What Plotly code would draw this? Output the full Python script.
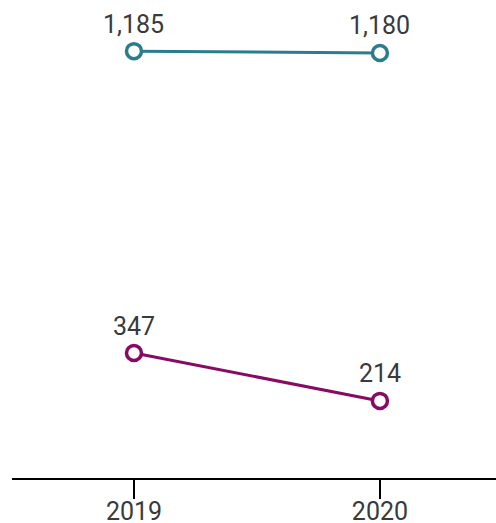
import plotly.graph_objects as go

years = [2019, 2020]
series_top = [1185, 1180]
series_bottom = [347, 214]
tick_labels = ["2019", "2020"]

teal = "#2b7c8f"
purple = "#870a64"
text_col = "#3a3a3a"

fig = go.Figure()

for vals, col in [(series_top, teal), (series_bottom, purple)]:
    fig.add_trace(go.Scatter(
        x=years, y=vals, mode="lines+markers",
        line=dict(color=col, width=3),
        marker=dict(size=15, color="white", line=dict(color=col, width=3.5)),
        cliponaxis=False, showlegend=False,
    ))
    # value labels above each point
    for x, v in zip(years, vals):
        fig.add_annotation(x=x, y=v, text=f"{v:,}", showarrow=False,
                           yshift=27, yanchor="middle",
                           font=dict(size=25, color=text_col, family="Roboto"))

fig.update_layout(
    width=496, height=523,
    margin=dict(l=12, r=0, t=0, b=45, autoexpand=False),
    paper_bgcolor="white", plot_bgcolor="white",
    font=dict(family="Roboto", color=text_col),
)

fig.update_xaxes(
    range=[2018.504, 2020.472], tickvals=years, ticktext=tick_labels,
    showgrid=False, zeroline=False, showline=True, linecolor="black", linewidth=2,
    ticks="outside", ticklen=19, tickwidth=2, tickcolor="black",
    tickfont=dict(size=25, color=text_col), ticklabelstandoff=-9,
    automargin=False,
)
fig.update_yaxes(range=[0, 1327], visible=False, showgrid=False, zeroline=False,
                 automargin=False)

# drop the default body margin so the figure fills the window
fig.write_html("out.html", config={"displayModeBar": False},
               post_script="document.body.style.margin='0px';")
